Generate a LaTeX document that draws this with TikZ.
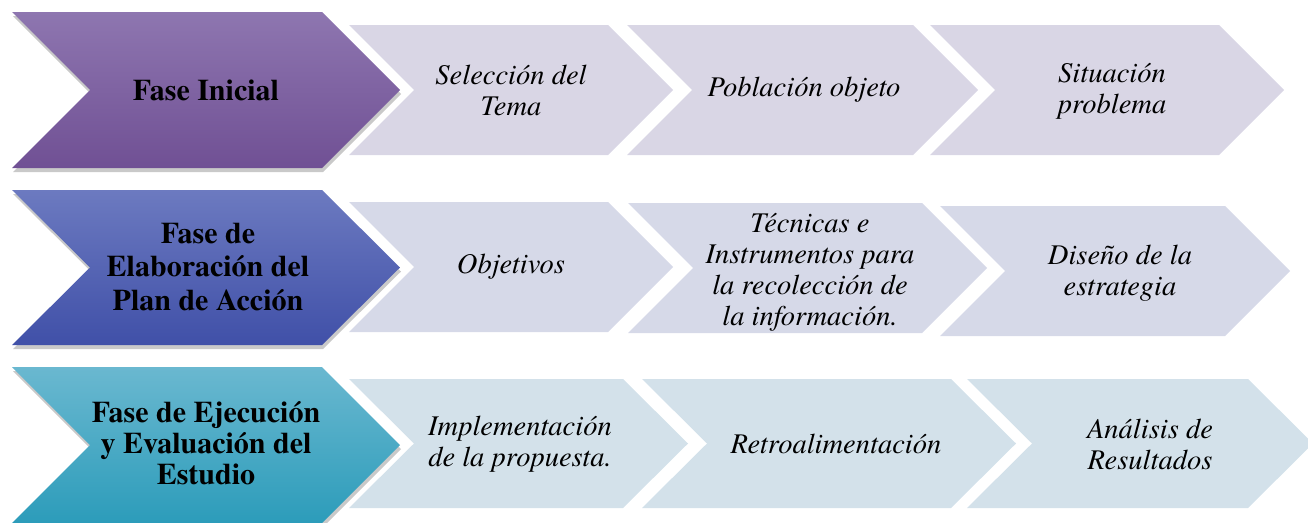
\documentclass[tikz,border=0pt]{standalone}
\usepackage{fontspec}
\setmainfont{texgyretermes}[Extension=.otf, UprightFont=*-regular, BoldFont=*-bold, ItalicFont=*-italic, BoldItalicFont=*-bolditalic]
\usetikzlibrary{shadows}

\definecolor{faseUnoTop}{RGB}{142,118,176}
\definecolor{faseUnoBot}{RGB}{112,80,148}
\definecolor{faseDosTop}{RGB}{108,122,192}
\definecolor{faseDosBot}{RGB}{64,80,168}
\definecolor{faseTresTop}{RGB}{106,184,208}
\definecolor{faseTresBot}{RGB}{44,156,186}
\definecolor{pasoUno}{RGB}{217,214,229}
\definecolor{pasoDos}{RGB}{214,217,232}
\definecolor{pasoTres}{RGB}{211,225,234}

\tikzset{
    fasetxt/.style={font=\fontsize{30}{33.5}\selectfont\bfseries, align=center},
    pasotxt/.style={font=\fontsize{28.5}{31}\selectfont\itshape, align=center},
    fase/.style={drop shadow={shadow xshift=1pt, shadow yshift=-4pt, opacity=.3, fill=black!70}}
}

\begin{document}
\begin{tikzpicture}[x=1pt, y=-1pt]
        \useasboundingbox (0,0) rectangle (1308,522);
        % fila 1
        \fill[pasoUno] (349,25) -- (608,25) -- (673,90) -- (608,155) -- (349,155) -- (414,90) -- cycle;
        \fill[pasoUno] (627,25) -- (913,25) -- (978,90) -- (913,155) -- (627,155) -- (692,90) -- cycle;
        \fill[pasoUno] (930,25) -- (1219,25) -- (1284,90) -- (1219,155) -- (930,155) -- (995,90) -- cycle;
        \path[fase, top color=faseUnoTop, bottom color=faseUnoBot] (12,12) -- (322,12) -- (400,90) -- (322,168) -- (12,168) -- (90,90) -- cycle;
        \node[fasetxt] (inicial) at (206,90) {Fase Inicial};
        \node[pasotxt] (tema) at (511,90) {Selección del\\Tema};
        \node[pasotxt] (poblacion) at (804,90) {Población objeto};
        \node[pasotxt] (situacion) at (1112,91) {Situación\\problema};
        % fila 2
        \fill[pasoDos] (349,202) -- (608,202) -- (673,267) -- (608,332) -- (349,332) -- (414,267) -- cycle;
        \fill[pasoDos] (628,203) -- (922,203) -- (987,268) -- (922,333) -- (628,333) -- (693,268) -- cycle;
        \fill[pasoDos] (940,206) -- (1225,206) -- (1290,271) -- (1225,336) -- (940,336) -- (1005,271) -- cycle;
        \path[fase, top color=faseDosTop, bottom color=faseDosBot] (12,190) -- (322,190) -- (400,267.5) -- (322,345) -- (12,345) -- (90,267.5) -- cycle;
        \node[fasetxt] (elaboracion) at (208,267) {Fase de\\Elaboración del\\Plan de Acción};
        \node[pasotxt] (objetivos) at (511,267) {Objetivos};
        \node[pasotxt] (tecnicas) at (810,272) {Técnicas e\\Instrumentos para\\la recolección de\\la información.};
        \node[pasotxt] (diseno) at (1120,273) {Diseño de la\\estrategia};
        % fila 3
        \fill[pasoTres] (349,379) -- (623,379) -- (688,443.5) -- (623,508) -- (349,508) -- (414,443.5) -- cycle;
        \fill[pasoTres] (642,379) -- (951,379) -- (1016,443.5) -- (951,508) -- (642,508) -- (707,443.5) -- cycle;
        \fill[pasoTres] (967,379) -- (1248,379) -- (1313,443.5) -- (1248,508) -- (967,508) -- (1032,443.5) -- cycle;
        \path[fase, top color=faseTresTop, bottom color=faseTresBot] (12,367) -- (322,367) -- (400,445) -- (322,523) -- (12,523) -- (90,445) -- cycle;
        \node[fasetxt, font=\fontsize{30}{31}\selectfont\bfseries] (ejecucion) at (206,443) {Fase de Ejecución\\y Evaluación del\\Estudio};
        \node[pasotxt] (implementacion) at (520,444) {Implementación\\de la propuesta.};
        \node[pasotxt] (retro) at (836,444) {Retroalimentación};
        \node[pasotxt] (analisis) at (1150,444) {Análisis de\\Resultados};
\end{tikzpicture}
\end{document}
